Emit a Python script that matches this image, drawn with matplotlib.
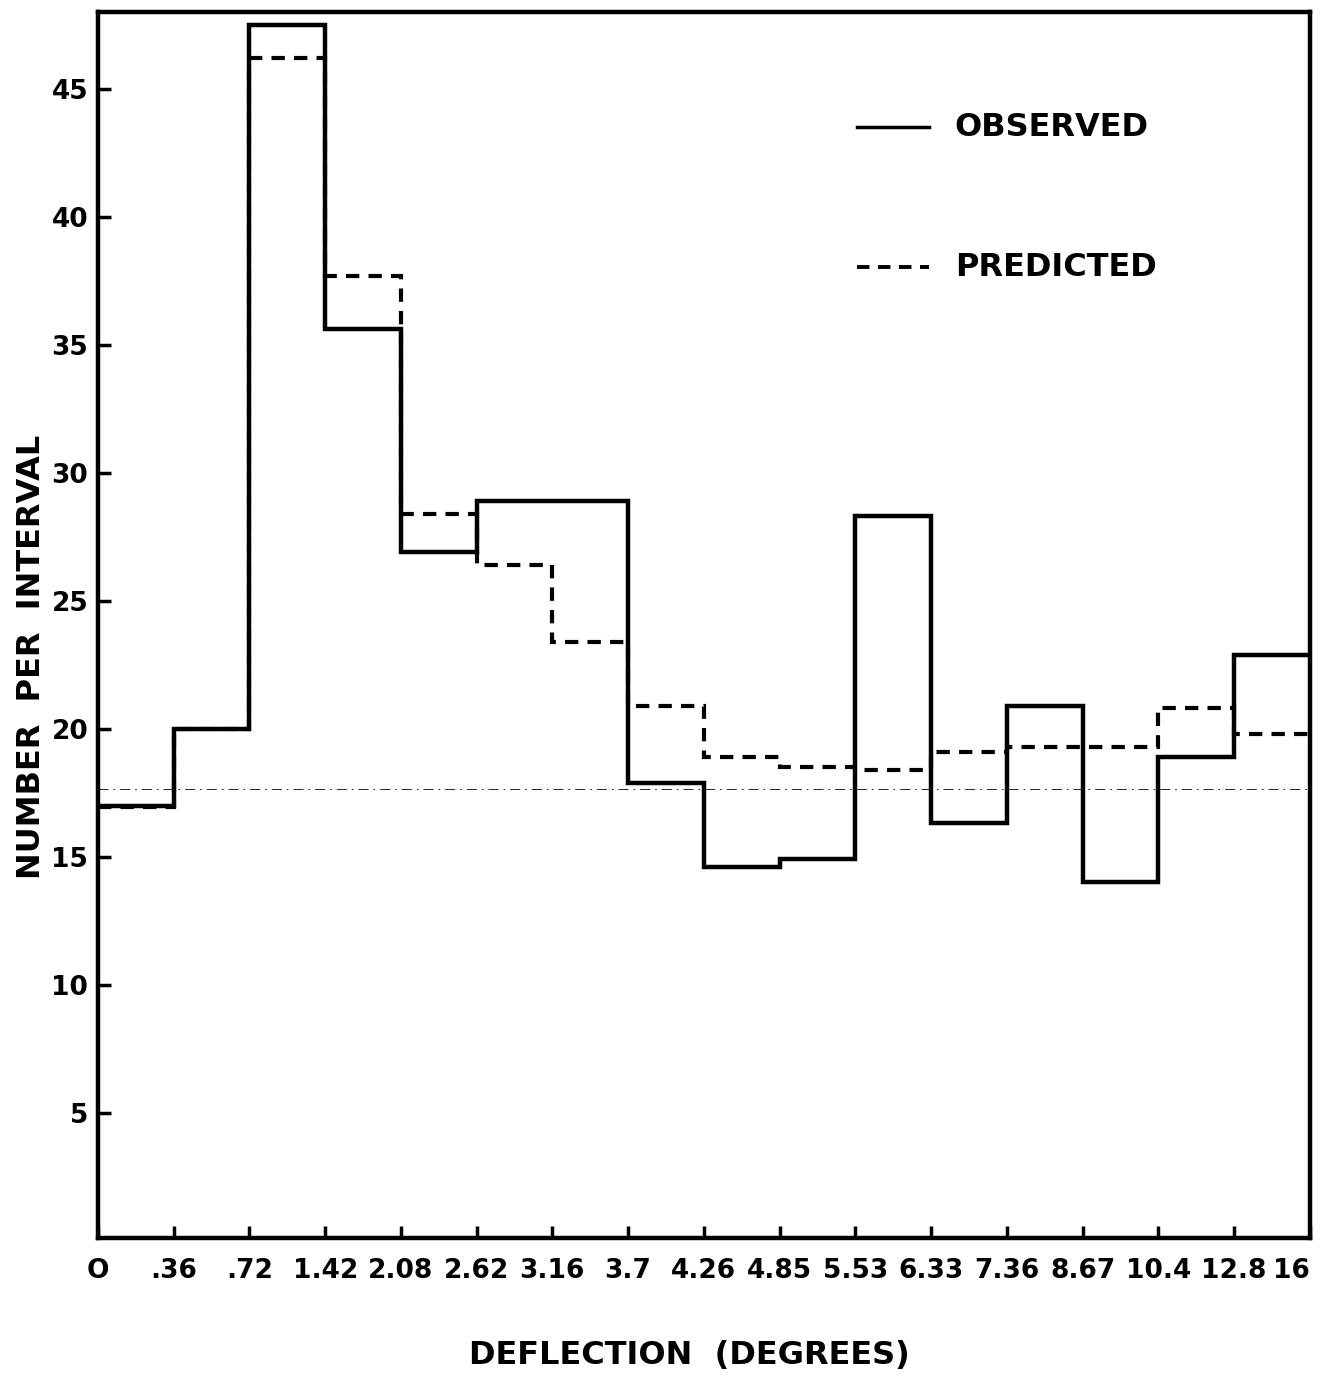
import numpy as np
import matplotlib
matplotlib.use("Agg")
import matplotlib.pyplot as plt

# interval edges in degrees (bins drawn with equal width)
edge_labels = ["O", ".36", ".72", "1.42", "2.08", "2.62", "3.16", "3.7", "4.26",
               "4.85", "5.53", "6.33", "7.36", "8.67", "10.4", "12.8", "16"]

observed = [17.0, 20.0, 47.5, 35.6, 26.9, 28.9, 28.9, 17.9,
            14.6, 14.9, 28.3, 16.3, 20.9, 14.0, 18.9, 22.9]

predicted = [16.95, 20.0, 46.2, 37.7, 28.4, 26.4, 23.4, 20.9,
             18.9, 18.5, 18.4, 19.1, 19.3, 19.3, 20.8, 19.8]

mean_level = 17.65

y_ticks = [5, 10, 15, 20, 25, 30, 35, 40, 45]

plt.rcParams["font.family"] = ["DejaVu Sans"]
plt.rcParams["font.weight"] = "bold"

fig = plt.figure(figsize=(13.23, 13.79), dpi=100)
ax = fig.add_axes([0.074, 0.1022, 0.916, 0.889])

edges = np.arange(len(edge_labels))

ax.stairs(observed, edges, baseline=None, color="black", linewidth=3.2)
ax.stairs(predicted, edges, baseline=None, color="black", linewidth=3.0,
          linestyle=(0, (3.2, 2.2)))
ax.axhline(mean_level, color="black", linewidth=0.6, linestyle=(0, (12, 6, 2, 6)))

ax.set_xlim(0, len(edge_labels) - 1)
ax.set_ylim(0.1, 48)

ax.set_xticks(edges)
ax.set_xticklabels(edge_labels, fontsize=19, fontweight="bold")
ax.get_xticklabels()[-1].set_horizontalalignment("right")
ax.set_yticks(y_ticks)
ax.set_yticklabels([str(v) for v in y_ticks], fontsize=19, fontweight="bold")

ax.tick_params(axis="x", direction="in", length=9, width=2.5, pad=14)
ax.tick_params(axis="y", direction="in", length=9, width=2.5, pad=7)

for side in ["left", "right", "top", "bottom"]:
    ax.spines[side].set_linewidth(3.2)

ax.set_xlabel("DEFLECTION  (DEGREES)", fontsize=23, fontweight="bold")
ax.xaxis.set_label_coords(0.488, -0.083)
ax.set_ylabel("NUMBER  PER  INTERVAL", fontsize=23, fontweight="bold")
ax.yaxis.set_label_coords(-0.042, 0.474)

# legend drawn as plain lines and text
ax.plot([0.626, 0.686], [0.906, 0.906], transform=ax.transAxes,
        color="black", linewidth=2.5)
ax.text(0.707, 0.906, "OBSERVED", transform=ax.transAxes, fontsize=23,
        fontweight="bold", va="center", ha="left")
ax.plot([0.626, 0.686], [0.792, 0.792], transform=ax.transAxes,
        color="black", linewidth=2.8, linestyle=(0, (3.2, 2.2)))
ax.text(0.707, 0.792, "PREDICTED", transform=ax.transAxes, fontsize=23,
        fontweight="bold", va="center", ha="left")

fig.savefig("out.png", dpi=100)
